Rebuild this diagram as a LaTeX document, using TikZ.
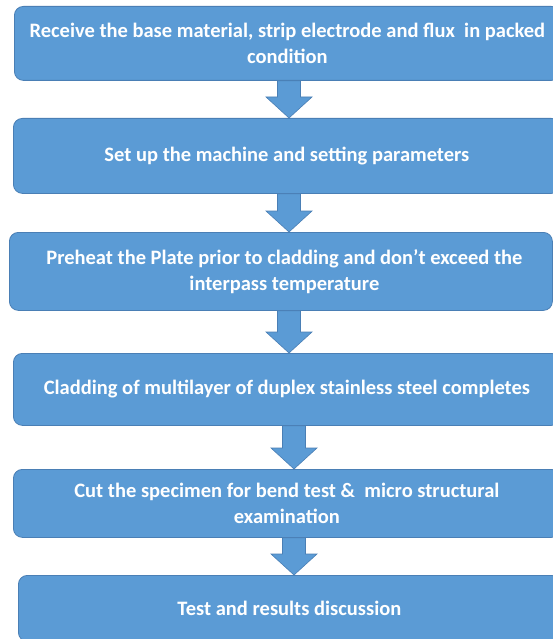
\documentclass[tikz,border=0pt]{standalone}
\usepackage{fontspec}
\setmainfont{Carlito}
\usetikzlibrary{calc}
\definecolor{boxblue}{HTML}{5B9BD5}
\definecolor{boxedge}{HTML}{4A7FB5}
\tikzset{
  flowbox/.style={draw=boxedge, line width=0.8pt, fill=boxblue, rounded corners=9pt,
    anchor=north west, inner sep=0pt, text=white, align=center,
    font=\fontsize{20.5}{26}\selectfont\bfseries},
  flowarrow/.style={draw=boxedge, line width=0.6pt, fill=boxblue}
}
\newcommand{\downarr}[3]{%
  \path[flowarrow] let \p1=(#1.south), \p2=(#2.north) in
    (#3-11.5,\y1) -- (#3+11.5,\y1) -- (#3+11.5,\y2+21pt) -- (#3+23,\y2+21pt)
    -- (#3,\y2) -- (#3-23,\y2+21pt) -- (#3-11.5,\y2+21pt) -- cycle;}
\begin{document}
\begin{tikzpicture}[x=1pt,y=1pt]
\useasboundingbox (0,0) rectangle (553,-639);
\clip (0,0) rectangle (553,-639);
\fill[white] (0,0) rectangle (553,-639);
\node[flowbox, minimum width=546, minimum height=74] (b1) at (14,-6)
  {Receive the base material, strip electrode and flux\ \ in packed\\condition};
\node[flowbox, minimum width=547, minimum height=75] (b2) at (13,-118)
  {Set up the machine and setting parameters};
\node[flowbox, minimum width=543, minimum height=78] (b3) at (9,-232)
  {\hspace*{7pt}Preheat the Plate prior to cladding and don’t exceed the\\\hspace*{7pt}interpass temperature};
\node[flowbox, minimum width=547, minimum height=72] (b4) at (13,-353)
  {Cladding of multilayer of duplex stainless steel completes};
\node[flowbox, minimum width=547, minimum height=68] (b5) at (13,-469)
  {Cut the specimen for bend test \&\ \ micro structural\\examination};
\node[flowbox, minimum width=542, minimum height=66] (b6) at (18,-575)
  {Test and results discussion};
\downarr{b1}{b2}{289}
\downarr{b2}{b3}{289}
\downarr{b3}{b4}{289}
\downarr{b4}{b5}{294}
\downarr{b5}{b6}{294}
\end{tikzpicture}
\end{document}
